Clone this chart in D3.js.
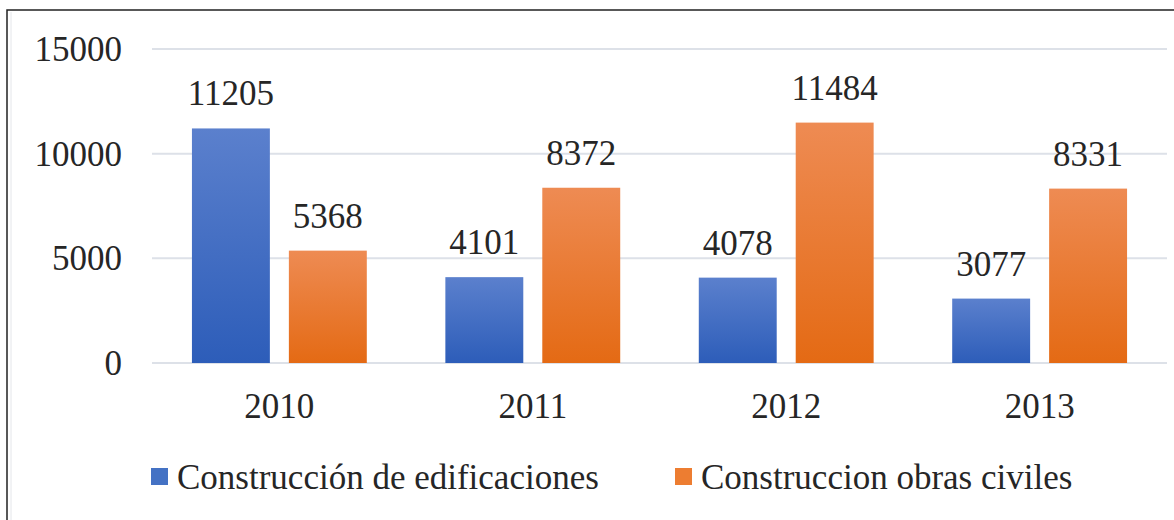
<!DOCTYPE html>
<html>
<head>
<meta charset="utf-8">
<script src="https://cdn.jsdelivr.net/npm/d3@7"></script>
<style>
  body { margin: 0; background: #fff; }
  svg text { font-family: "Liberation Serif", "DejaVu Serif", serif !important; fill: #262626; }
</style>
</head>
<body>
<div id="canvas"></div>
<script>
// data
const years = ["2010", "2011", "2012", "2013"];
const edificaciones = [11205, 4101, 4078, 3077];
const obrasCiviles = [5368, 8372, 11484, 8331];
const seriesNames = ["Construcción de edificaciones", "Construccion obras civiles"];
const yTicks = [0, 5000, 10000, 15000];

// dimensions
const width = 1174;
const height = 520;
const margins = {top: 49, right: 7, bottom: 157, left: 152};
const dataWidth = width - margins.left - margins.right;
const dataHeight = height - margins.top - margins.bottom;
const fontSize = 35;
const serif = "'Liberation Serif', 'DejaVu Serif', serif";

var svg = d3.select("#canvas").append("svg")
    .attr("width", width)
    .attr("height", height)
    .attr("font-family", serif);

// gradients
var defs = svg.append("defs");
function addGradient(id, top, bottom) {
    var g = defs.append("linearGradient")
        .attr("id", id)
        .attr("x1", 0).attr("y1", 0).attr("x2", 0).attr("y2", 1);
    g.append("stop").attr("offset", "0%").attr("stop-color", top);
    g.append("stop").attr("offset", "100%").attr("stop-color", bottom);
}
addGradient("gBlue", "#5b80cd", "#2d5db9");
addGradient("gOrange", "#ee8b53", "#e46a14");
const fills = ["url(#gBlue)", "url(#gOrange)"];
const legendFills = ["#4472c4", "#ed7d31"];

// frame
svg.append("rect")
    .attr("x", 7).attr("y", 10)
    .attr("width", width + 10).attr("height", height + 10)
    .attr("fill", "none")
    .attr("stroke", "#222")
    .attr("stroke-width", 1.5);
svg.append("line")
    .attr("x1", 11).attr("x2", 11)
    .attr("y1", 12).attr("y2", height)
    .attr("stroke", "#e4e6ea")
    .attr("stroke-width", 1);

var dataArea = svg.append("g")
    .attr("transform", `translate(${margins.left}, ${margins.top})`);

// scales
var x = d3.scaleBand()
    .domain(years)
    .range([0, dataWidth])
    .paddingInner(0.31)
    .paddingOuter(0.1576);
var x1 = d3.scaleBand()
    .domain([0, 1])
    .range([0, x.bandwidth()])
    .paddingInner(0.196);
var y = d3.scaleLinear()
    .domain([0, 15000])
    .range([dataHeight, 0]);

// gridlines
dataArea.selectAll(".grid")
    .data(yTicks)
    .enter()
    .append("line")
    .attr("class", "grid")
    .attr("x1", 0)
    .attr("x2", dataWidth)
    .attr("y1", d => y(d))
    .attr("y2", d => y(d))
    .attr("stroke", "#dde1e8")
    .attr("stroke-width", 2);

// Y axis
var yAxis = dataArea.append("g")
    .call(d3.axisLeft(y).tickValues(yTicks).tickSize(0).tickPadding(30).tickFormat(d3.format("d")));
yAxis.select(".domain").remove();
yAxis.attr("font-family", serif);
yAxis.selectAll("text")
    .attr("font-size", fontSize)
    .attr("dy", "0.33em");

// X axis
var xAxis = dataArea.append("g")
    .attr("transform", `translate(0, ${dataHeight})`)
    .call(d3.axisBottom(x).tickSize(0));
xAxis.select(".domain").remove();
xAxis.attr("font-family", serif);
xAxis.selectAll("text")
    .attr("font-size", fontSize)
    .attr("y", 55)
    .attr("dy", 0);

// bars
var groups = dataArea.selectAll(".year")
    .data(years)
    .enter()
    .append("g")
    .attr("class", "year")
    .attr("transform", d => `translate(${x(d)}, 0)`);

groups.each(function(yr, i) {
    var vals = [edificaciones[i], obrasCiviles[i]];
    var g = d3.select(this);
    g.selectAll("rect")
        .data(vals)
        .enter()
        .append("rect")
        .attr("x", (d, j) => x1(j))
        .attr("y", d => y(d))
        .attr("width", x1.bandwidth())
        .attr("height", d => dataHeight - y(d))
        .attr("fill", (d, j) => fills[j]);
    g.selectAll(".lbl")
        .data(vals)
        .enter()
        .append("text")
        .attr("class", "lbl")
        .attr("text-anchor", "middle")
        .attr("x", (d, j) => x1(j) + x1.bandwidth() / 2)
        .attr("y", d => y(d) - 23)
        .attr("font-size", fontSize)
        .text(d => d);
});

// legend
const legendX = [151, 675];
var legend = svg.selectAll(".legend")
    .data(seriesNames)
    .enter()
    .append("g")
    .attr("class", "legend")
    .attr("transform", (d, i) => `translate(${legendX[i]}, 489)`);
legend.append("rect")
    .attr("x", 0)
    .attr("y", -21)
    .attr("width", 17)
    .attr("height", 17)
    .attr("fill", (d, i) => legendFills[i]);
legend.append("text")
    .attr("x", 26)
    .attr("y", 0)
    .attr("font-size", fontSize)
    .text(d => d);
</script>
</body>
</html>
